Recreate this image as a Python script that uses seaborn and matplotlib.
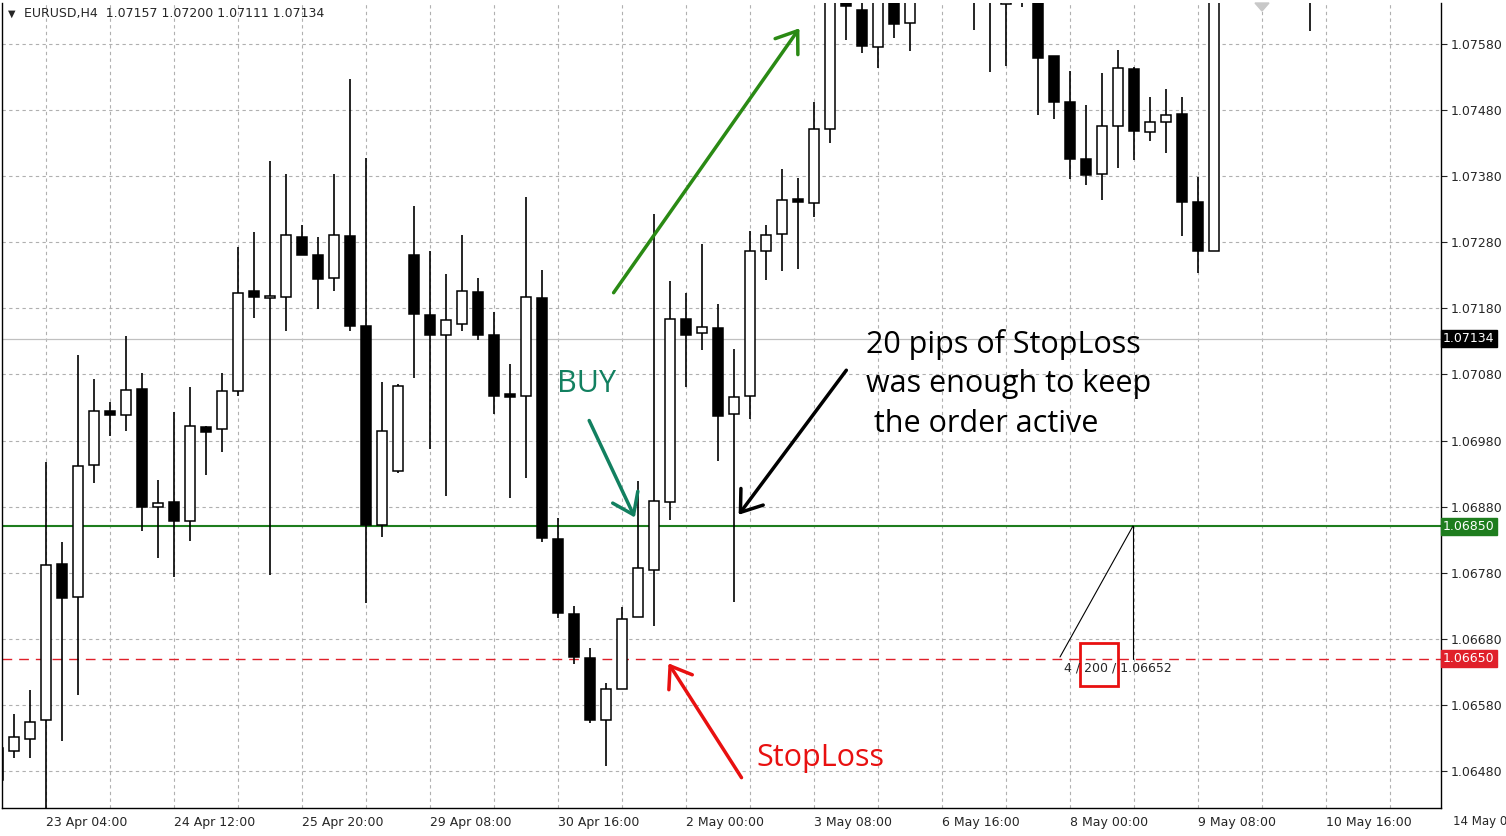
import numpy as np
import pandas as pd
import matplotlib
matplotlib.use("Agg")
import matplotlib.pyplot as plt
import seaborn as sns

sns.set_style("white")
plt.rcParams['font.family'] = ['DejaVu Sans']

# candle index (4h bars), OHLC
bar_idx = [-1, 0, 1, 2, 3, 4, 5, 6, 7, 8, 9, 10, 11, 12, 13, 14, 15, 16, 17, 18, 19, 20,
           21, 22, 23, 24, 25, 26, 27, 28, 29, 30, 31, 32, 33, 34, 35, 36, 37, 38, 39, 40,
           41, 42, 43, 44, 45, 46, 47, 48, 49, 50, 51, 52, 53, 54, 55, 56, 60, 61, 62, 63,
           64, 65, 66, 67, 68, 69, 70, 71, 72, 73, 74, 75, 81]
opens = [1.06515, 1.06510, 1.06529, 1.06557, 1.06793, 1.06743, 1.06943, 1.07025, 1.07019, 1.07058,
         1.06879, 1.06887, 1.06858, 1.07001, 1.06998, 1.07055, 1.07206, 1.07196, 1.07197, 1.07288,
         1.07261, 1.07226, 1.07290, 1.07153, 1.06852, 1.06934, 1.07261, 1.07170, 1.07140, 1.07156,
         1.07205, 1.07140, 1.07051, 1.07048, 1.07196, 1.06831, 1.06718, 1.06651, 1.06557, 1.06604,
         1.06713, 1.06784, 1.06887, 1.07164, 1.07143, 1.07150, 1.07020, 1.07048, 1.07267, 1.07293,
         1.07346, 1.07340, 1.07451, 1.07677, 1.07632, 1.07575, 1.07662, 1.07612, 1.07680, 1.07720,
         1.07641, 1.07690, 1.07690, 1.07562, 1.07492, 1.07406, 1.07383, 1.07456, 1.07542, 1.07447,
         1.07462, 1.07474, 1.07341, 1.07267, 1.07720]
highs = [1.06515, 1.06566, 1.06603, 1.06948, 1.06827, 1.07110, 1.07073, 1.07038, 1.07138, 1.07082,
         1.06920, 1.07023, 1.07061, 1.07002, 1.07082, 1.07273, 1.07296, 1.07403, 1.07383, 1.07306,
         1.07288, 1.07383, 1.07527, 1.07408, 1.07069, 1.07066, 1.07335, 1.07267, 1.07232, 1.07291,
         1.07226, 1.07175, 1.07096, 1.07349, 1.07238, 1.06863, 1.06730, 1.06666, 1.06613, 1.06728,
         1.06919, 1.07323, 1.07221, 1.07203, 1.07277, 1.07187, 1.07119, 1.07297, 1.07306, 1.07391,
         1.07377, 1.07492, 1.07707, 1.07722, 1.07677, 1.07692, 1.07692, 1.07684, 1.07760, 1.07750,
         1.07720, 1.07720, 1.07720, 1.07562, 1.07539, 1.07488, 1.07536, 1.07571, 1.07545, 1.07500,
         1.07512, 1.07500, 1.07379, 1.07737, 1.07760]
lows = [1.06467, 1.06500, 1.06500, 1.06421, 1.06526, 1.06595, 1.06916, 1.06987, 1.06995, 1.06843,
        1.06802, 1.06774, 1.06828, 1.06928, 1.06963, 1.07048, 1.07166, 1.06777, 1.07146, 1.07261,
        1.07179, 1.07206, 1.07146, 1.06734, 1.06834, 1.06931, 1.07075, 1.06967, 1.06896, 1.07146,
        1.07132, 1.07020, 1.06893, 1.06923, 1.06827, 1.06712, 1.06642, 1.06553, 1.06488, 1.06604,
        1.06713, 1.06700, 1.06860, 1.07061, 1.07117, 1.06949, 1.06736, 1.07013, 1.07223, 1.07237,
        1.07240, 1.07318, 1.07430, 1.07586, 1.07566, 1.07544, 1.07589, 1.07569, 1.07601, 1.07538,
        1.07547, 1.07636, 1.07473, 1.07467, 1.07376, 1.07367, 1.07344, 1.07392, 1.07405, 1.07433,
        1.07415, 1.07290, 1.07234, 1.07267, 1.07600]
closes = [1.06467, 1.06532, 1.06554, 1.06792, 1.06742, 1.06942, 1.07025, 1.07019, 1.07057, 1.06880,
          1.06886, 1.06858, 1.07002, 1.06993, 1.07055, 1.07203, 1.07197, 1.07199, 1.07291, 1.07261,
          1.07225, 1.07291, 1.07153, 1.06852, 1.06995, 1.07063, 1.07172, 1.07140, 1.07162, 1.07206,
          1.07140, 1.07048, 1.07046, 1.07197, 1.06833, 1.06719, 1.06653, 1.06557, 1.06604, 1.06710,
          1.06787, 1.06889, 1.07164, 1.07140, 1.07152, 1.07017, 1.07046, 1.07267, 1.07291, 1.07344,
          1.07341, 1.07451, 1.07669, 1.07638, 1.07577, 1.07662, 1.07610, 1.07654, 1.07720, 1.07690,
          1.07680, 1.07670, 1.07559, 1.07492, 1.07406, 1.07382, 1.07456, 1.07544, 1.07448, 1.07462,
          1.07473, 1.07341, 1.07267, 1.07692, 1.07700]

ytick_vals = [1.06480, 1.06580, 1.06680, 1.06780, 1.06880, 1.06980, 1.07080,
              1.07180, 1.07280, 1.07380, 1.07480, 1.07580]
xtick_idx = [2, 10, 18, 26, 34, 42, 50, 58, 66, 74, 82]
xtick_labels = ["23 Apr 04:00", "24 Apr 12:00", "25 Apr 20:00", "29 Apr 08:00", "30 Apr 16:00",
                "2 May 00:00", "3 May 08:00", "6 May 16:00", "8 May 00:00", "9 May 08:00",
                "10 May 16:00"]
xgrid_idx = [2, 6, 10, 14, 18, 22, 26, 30, 34, 38, 42, 46, 50, 54, 58, 62, 66, 70, 74, 78, 82, 86]
current_price = 1.07134
entry_price = 1.06850
stop_price = 1.06650

df = pd.DataFrame(dict(i=bar_idx, o=opens, h=highs, l=lows, c=closes))
df["bull"] = df.c >= df.o

W, H = 1506, 836
fig = plt.figure(figsize=(W / 100, H / 100), dpi=100)
ax = fig.add_axes([2 / W, 28 / H, 1439 / W, 805 / H])
x0, x1 = -0.75, 89.19
y_top, y_bot = 1.07642, 1.06424
ax.set_xlim(x0, x1)
ax.set_ylim(y_bot, y_top)

# grid
for v in ytick_vals:
    ax.axhline(v, color="#b0b0b0", lw=0.8, ls=(0, (3, 3)), zorder=0)
for v in xgrid_idx:
    ax.axvline(v, color="#b0b0b0", lw=0.8, ls=(0, (3, 3)), zorder=0)

# level lines
ax.axhline(current_price, color="#c0c0c0", lw=0.9, zorder=1)
ax.axhline(entry_price, color="#1e7d1e", lw=1.5, zorder=1)
ax.axhline(stop_price, color="#e0202a", lw=1.0, ls=(0, (7, 5)), zorder=1)

# candles
ax.vlines(df.i, df.l, df.h, color="black", lw=1.2, zorder=2)
body_lo = np.minimum(df.o, df.c)
body_h = np.maximum(np.abs(df.c - df.o), 0.000015)
ax.bar(df.i, body_h, bottom=body_lo, width=0.62,
       color=np.where(df.bull, "white", "black"), edgecolor="black", lw=1.1, zorder=3)

# axes styling
ax.spines["top"].set_visible(False)
for s in ["left", "right", "bottom"]:
    ax.spines[s].set_color("black")
    ax.spines[s].set_linewidth(1.0)
ax.yaxis.tick_right()
ax.set_yticks(ytick_vals)
ax.set_yticklabels([f"{v:.5f}" for v in ytick_vals], fontsize=9)
ax.tick_params(axis="y", length=4, pad=3, right=True, left=False)
ax.set_xticks(xtick_idx)
ax.set_xticklabels(xtick_labels, fontsize=9, ha="left")
ax.tick_params(axis="x", length=4, pad=2)
fig.text(1453 / W, 1 - 821 / H, "14 May 0", fontsize=8.5, va="center")

# price labels on the right
def price_box(y, txt, fc):
    ax.text(1.0015, y, txt, transform=ax.get_yaxis_transform(), fontsize=9, color="white",
            va="center", ha="left", zorder=10, clip_on=False,
            bbox=dict(boxstyle="square,pad=0.15", fc=fc, ec=fc))
price_box(current_price, "1.07134", "black")
price_box(entry_price, "1.06850", "#1e7d1e")
price_box(stop_price, "1.06650", "#e0202a")

# header
fig.text(8 / W, 1 - 14 / H, "▼", fontsize=7, va="center")
fig.text(24 / W, 1 - 14 / H, "EURUSD,H4  1.07157 1.07200 1.07111 1.07134", fontsize=9, va="center")

def P(x, y):
    return (x / W, 1 - y / H)

afont = ["Open Sans", "DejaVu Sans"]
def arrow(a, b, col):
    fig.patches.append(matplotlib.patches.FancyArrowPatch(P(*a), P(*b), transform=fig.transFigure,
                       arrowstyle="->,head_length=7,head_width=5", color=col, lw=2.5, mutation_scale=2))

arrow((612, 295), (801, 26), "#2a8a14")
fig.text(*P(557, 384), "BUY", color="#128060", fontsize=22, family=afont, va="center")
arrow((588, 418), (636, 520), "#128060")
fig.text(*P(866, 384), "20 pips of StopLoss\nwas enough to keep\n the order active", color="black",
         fontsize=22, family=afont, va="center", linespacing=1.4)
arrow((848, 368), (737, 517), "black")
arrow((743, 780), (667, 661), "#e81010")
fig.text(*P(756, 758), "StopLoss", color="#e81010", fontsize=22, family=afont, va="center")

# order line marker
fig.add_artist(matplotlib.lines.Line2D([1060 / W, 1133 / W], [1 - 657 / H, 1 - 526 / H], color="black", lw=0.8))
fig.add_artist(matplotlib.lines.Line2D([1133 / W, 1133 / W], [1 - 526 / H, 1 - 659 / H], color="black", lw=0.8))
fig.text(*P(1064, 668), "4 / 200 / 1.06652", fontsize=9, va="center")
fig.add_artist(matplotlib.patches.Rectangle(P(1080, 686), 38 / W, 43 / H, fill=False, ec="#e81010", lw=2))
fig.add_artist(matplotlib.patches.Polygon([P(1255, 3), P(1269, 3), P(1262, 11)], color="#c8c8c8"))

fig.savefig("out.png", dpi=100, facecolor="white")
